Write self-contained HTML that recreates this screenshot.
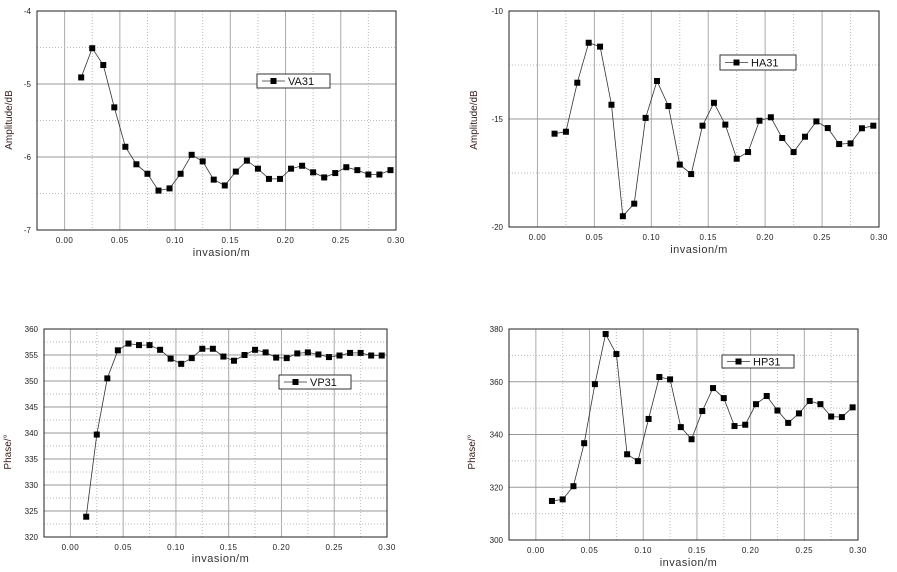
<!DOCTYPE html>
<html><head><meta charset="utf-8"><style>
html,body{margin:0;padding:0;background:#fff;}
svg{display:block;font-family:"Liberation Sans",sans-serif;}
</style></head><body>
<svg id="chart" width="897" height="572" viewBox="0 0 897 572"></svg>
<script>
const xValues=[0.015,0.025,0.035,0.045,0.055,0.065,0.075,0.085,0.095,0.105,0.115,0.125,0.135,0.145,0.155,0.165,0.175,0.185,0.195,0.205,0.215,0.225,0.235,0.245,0.255,0.265,0.275,0.285,0.295];
const xTickLabels=["0.00","0.05","0.10","0.15","0.20","0.25","0.30"];
const va31=[-4.91,-4.51,-4.74,-5.32,-5.86,-6.10,-6.23,-6.46,-6.43,-6.23,-5.97,-6.06,-6.31,-6.39,-6.20,-6.05,-6.16,-6.30,-6.30,-6.16,-6.12,-6.21,-6.28,-6.22,-6.14,-6.18,-6.24,-6.24,-6.18];
const ha31=[-15.68,-15.59,-13.32,-11.47,-11.65,-14.34,-19.5,-18.92,-14.95,-13.24,-14.40,-17.11,-17.55,-15.31,-14.25,-15.26,-16.84,-16.53,-15.08,-14.92,-15.88,-16.53,-15.82,-15.11,-15.42,-16.16,-16.13,-15.43,-15.31];
const vp31=[323.9,339.7,350.5,355.9,357.2,356.9,356.9,356.0,354.3,353.3,354.4,356.2,356.2,354.7,353.9,355.0,356.0,355.5,354.5,354.4,355.3,355.5,355.1,354.6,354.9,355.4,355.4,354.9,354.9];
const hp31=[314.8,315.4,320.4,336.7,359.1,378.1,370.5,332.5,329.9,345.9,361.8,360.9,342.8,338.2,348.9,357.6,353.8,343.2,343.7,351.5,354.6,349.1,344.4,348.0,352.7,351.5,346.8,346.6,350.3];
const vaTicks=["-4","-5","-6","-7"];
const haTicks=["-10","-15","-20"];
const vpTicks=["360","355","350","345","340","335","330","325","320"];
const hpTicks=["380","360","340","320","300"];

const svg=document.getElementById('chart');
const NS='http://www.w3.org/2000/svg';
function mk(tag,attrs,parent){const e=document.createElementNS(NS,tag);for(const k in attrs)e.setAttribute(k,attrs[k]);(parent||svg).appendChild(e);return e;}

function panel(id,box,ymin,ymax,ticks,minorStep,data,name,legend,ylabel,ylabelPos,xtitleY){
  const g=mk('g',{});
  
  
  const xmin=-0.025,xmax=0.30;
  const sx=v=>box.l+(v-xmin)/(xmax-xmin)*(box.r-box.l);
  const sy=v=>box.b-(v-ymin)/(ymax-ymin)*(box.b-box.t);
  // vertical grid
  for(let i=0;i<=12;i++){const v=i*0.025;const x=sx(v);
    const ln=mk('line',{x1:x,x2:x,y1:box.t,y2:box.b,stroke:i%2?'#bbb':'#aaa','stroke-width':1,'stroke-dasharray':i%2?'1,2':'none'},g);
    
    }
  // horizontal grid
  for(let v=ymin;v<=ymax+1e-9;v+=minorStep){const y=sy(v);
    const idx=Math.round((v-ymin)/minorStep);const major=idx%2===0;
    if(Math.abs(v-ymin)<1e-9||Math.abs(v-ymax)<1e-9)continue;
    const ln=mk('line',{x1:box.l,x2:box.r,y1:y,y2:y,stroke:major?'#999':'#bbb','stroke-width':1,'stroke-dasharray':major?'none':'1,2'},g);
    
    }
  const fr=mk('rect',{x:box.l,y:box.t,width:box.r-box.l,height:box.b-box.t,fill:'none',stroke:'#222','stroke-width':1},g);
  
  
  // x ticks
  xTickLabels.forEach(t=>{const v=parseFloat(t);
    const tx=mk('text',{x:sx(v),y:box.b+13,'font-size':8,'text-anchor':'middle',fill:'#222','letter-spacing':'0.5'},g);
    tx.textContent=t;
    
    });
  ticks.forEach(t=>{const v=parseFloat(t);
    const tx=mk('text',{x:box.l-6,y:sy(v)+3,'font-size':8,'text-anchor':'end',fill:'#222'},g);
    tx.textContent=t;
    
    });
  const xt=mk('text',{x:(box.l+box.r)/2+5,y:xtitleY,'font-size':11,'text-anchor':'middle',fill:'#333','letter-spacing':'0.5'},g);
  xt.textContent='invasion/m';
  
  
  const yt=mk('text',{x:ylabelPos[0],y:ylabelPos[1],'font-size':10,'text-anchor':'middle',fill:'#3a2020',transform:`rotate(-90 ${ylabelPos[0]} ${ylabelPos[1]})`},g);
  yt.textContent=ylabel;
  
  
  // series
  const pts=data.map((v,i)=>sx(xValues[i]).toFixed(1)+','+sy(v).toFixed(1)).join(' ');
  const pl=mk('polyline',{points:pts,fill:'none',stroke:'#333','stroke-width':0.8},g);
  
  
  data.forEach((v,i)=>{
    const m=mk('rect',{x:sx(xValues[i])-3,y:sy(v)-3,width:6,height:6,fill:'#000'},g);
    
    });
  // legend
  const lg=mk('g',{},g);
  
  
  mk('rect',{x:legend[0],y:legend[1],width:legend[2]-legend[0],height:legend[3]-legend[1],fill:'#fff',stroke:'#333','stroke-width':1},lg);
  const cy=(legend[1]+legend[3])/2;
  mk('line',{x1:legend[0]+5,x2:legend[0]+28,y1:cy,y2:cy,stroke:'#333','stroke-width':0.8},lg);
  mk('rect',{x:legend[0]+13.5,y:cy-3,width:6,height:6,fill:'#000'},lg);
  const lt=mk('text',{x:legend[0]+31,y:cy+4,'font-size':11,fill:'#111'},lg);
  lt.textContent=name;
  
  
}
panel('va31',{l:37,t:11,r:396,b:230},-7,-4,vaTicks,0.5,va31,'VA31',[257,74,330,88],'Amplitude/dB',[12,120],256);
panel('ha31',{l:509,t:11,r:879,b:227},-20,-10,haTicks,2.5,ha31,'HA31',[720,55,796,70],'Amplitude/dB',[477,120],253);
panel('vp31',{l:44,t:329,r:387,b:537},320,360,vpTicks,2.5,vp31,'VP31',[279,375,351,389],'Phase/°',[11,452],562);
panel('hp31',{l:509,t:329,r:858,b:540},300,380,hpTicks,10,hp31,'HP31',[722,355,794,368],'Phase/°',[475,452],566);
</script>
</body></html>
